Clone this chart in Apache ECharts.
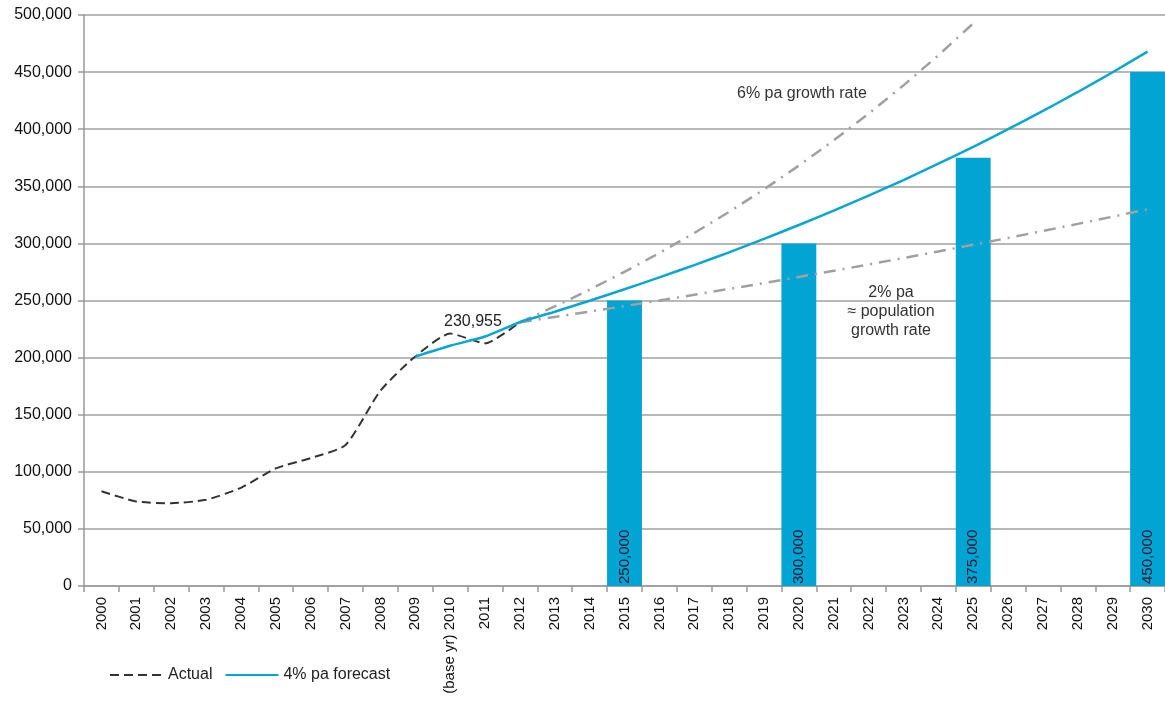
<!DOCTYPE html>
<html>
<head>
<meta charset="utf-8">
<script src="https://cdn.jsdelivr.net/npm/echarts@6/dist/echarts.min.js"></script>
<style>
  html, body { margin: 0; padding: 0; background: #fff; }
  #chart { width: 1165px; height: 704px; }
</style>
</head>
<body>
<div id="chart"></div>
<script>
var years = ['2000', '2001', '2002', '2003', '2004', '2005', '2006', '2007', '2008', '2009',
  '(base yr) 2010', '2011', '2012', '2013', '2014', '2015', '2016', '2017', '2018', '2019',
  '2020', '2021', '2022', '2023', '2024', '2025', '2026', '2027', '2028', '2029', '2030'];

// targets (bars)
var targets = [null, null, null, null, null, null, null, null, null, null,
  null, null, null, null, null, 250000, null, null, null, null,
  300000, null, null, null, null, 375000, null, null, null, null, 450000];

// actual, 2000-2012
var actual = [83000, 74000, 72500, 75500, 86000, 103000, 112000, 123500, 171000, 201000,
  221000, 212500, 230955];

// 4% pa forecast, from 2009
var forecast4 = [null, null, null, null, null, null, null, null, null, 201000,
  210400, 218500, 230955, 240200, 249800, 259800, 270200, 281000, 292200, 303900,
  316100, 328700, 341900, 355500, 369800, 384600, 400000, 416000, 432600, 449900, 467900];

// 6% pa growth, 2012-2025
var growth6 = [null, null, null, null, null, null, null, null, null, null,
  null, null, 230955, 244800, 259500, 275100, 291600, 309100, 327600, 347300,
  368100, 390200, 413600, 438400, 464700, 492600];

// 2% pa growth, 2012-2030
var growth2 = [null, null, null, null, null, null, null, null, null, null,
  null, null, 230955, 235600, 240300, 245100, 250000, 255000, 260100, 265300,
  270600, 276000, 281500, 287200, 292900, 298800, 304800, 310900, 317100, 323400, 329900];

var font = '"Liberation Sans", Arial, sans-serif';
var fmt = function (v) { return v.toLocaleString('en-US'); };

var chart = echarts.init(document.getElementById('chart'));

chart.setOption({
  animation: false,
  textStyle: { fontFamily: font },
  grid: { left: 84, right: 0, top: 15, bottom: 118 },
  legend: {
    data: [
      { name: 'Actual', itemStyle: { opacity: 0 } },
      { name: '4% pa forecast', itemStyle: { opacity: 0 } }
    ],
    left: 104,
    top: 662,
    itemWidth: 53,
    itemHeight: 10,
    itemGap: 12,
    textStyle: { fontSize: 16, color: '#222', fontFamily: font }
  },
  xAxis: {
    type: 'category',
    data: years,
    axisLine: { lineStyle: { color: '#999', width: 1.5 } },
    axisTick: { show: true, length: 6, lineStyle: { color: '#999', width: 1.5 } },
    axisLabel: { rotate: 90, interval: 0, fontSize: 15, color: '#111', margin: 11, fontFamily: font }
  },
  yAxis: {
    type: 'value',
    min: 0,
    max: 500000,
    interval: 50000,
    axisLine: { show: true, lineStyle: { color: '#999', width: 1.5 } },
    axisTick: { show: true, length: 6, lineStyle: { color: '#999', width: 1.5 } },
    splitLine: { lineStyle: { color: '#a0a0a0', width: 1.5 } },
    axisLabel: { fontSize: 16, color: '#111', margin: 12, formatter: fmt, fontFamily: font }
  },
  graphic: [
    { type: 'text', x: 737, y: 86,
      style: { text: '6% pa growth rate', fill: '#333', font: '16px ' + font } },
    { type: 'text', x: 891, y: 283,
      style: { text: '2% pa\n≈ population\ngrowth rate', align: 'center', lineHeight: 19,
        fill: '#333', font: '16px ' + font } },
    { type: 'text', x: 444, y: 314,
      style: { text: fmt(actual[12]), fill: '#222', font: '16px ' + font } }
  ],
  series: [
    {
      name: 'Target',
      type: 'bar',
      data: targets,
      barWidth: '100%',
      itemStyle: { color: '#02a4d3' },
      label: {
        show: true,
        position: 'insideBottom',
        rotate: 90,
        align: 'left',
        verticalAlign: 'middle',
        distance: 2,
        fontSize: 15,
        color: '#0c1a33',
        formatter: function (p) { return fmt(p.value); }
      }
    },
    {
      name: '6% pa',
      type: 'line',
      data: growth6,
      symbol: 'none',
      lineStyle: { color: '#a0a0a0', width: 2.5, type: [12, 7, 2, 7] }
    },
    {
      name: '2% pa',
      type: 'line',
      data: growth2,
      symbol: 'none',
      lineStyle: { color: '#a0a0a0', width: 2.5, type: [12, 7, 2, 7] }
    },
    {
      name: 'Actual',
      type: 'line',
      data: actual,
      symbol: 'none',
      smooth: 0.2,
      itemStyle: { color: '#333' },
      lineStyle: { color: '#333', width: 2, type: [9, 5] }
    },
    {
      name: '4% pa forecast',
      type: 'line',
      data: forecast4,
      symbol: 'none',
      smooth: 0.2,
      lineStyle: { color: '#0aa6d2', width: 2.5 },
      itemStyle: { color: '#0aa6d2' }
    }
  ]
});
</script>
</body>
</html>
